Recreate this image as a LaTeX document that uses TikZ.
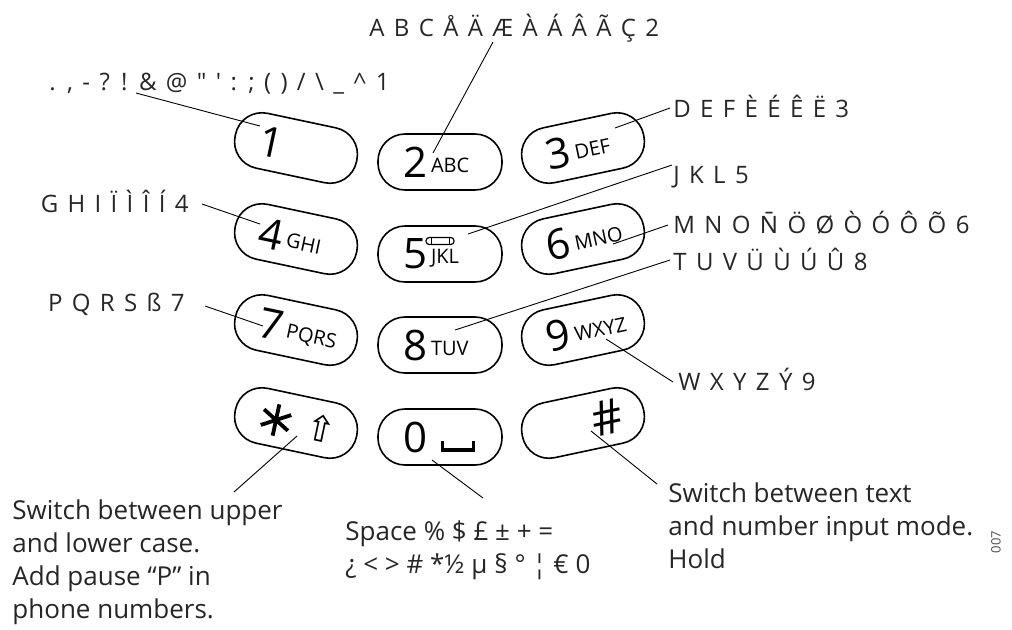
\documentclass[tikz,border=0pt]{standalone}
\usepackage{fontspec}
\setmainfont{Open Sans}
\newfontfamily\listfont[WordSpace=1.5,Ligatures=TeXOff]{Open Sans}
\newfontfamily\markfont{Noto Sans}
\newfontfamily\glyphfont{DejaVu Sans}

\newcommand\keydig[1]{{\fontsize{21}{21}\selectfont #1}}
\newcommand\keylet[1]{\hspace{2pt}\raisebox{2.5pt}{\fontsize{10}{10}\selectfont #1}}
\newcommand\spacebar{\rule{1.6pt}{5.5pt}\rule{14pt}{2pt}\rule{1.6pt}{5.5pt}}

\tikzset{
    keycap/.style={draw, line width=0.8pt, rounded corners=13.5pt,
        minimum height=28pt, text width=62pt, inner xsep=0pt, inner ysep=0pt, align=left,
        execute at begin node=\hspace*{12.5pt}},
    keyleft/.style={keycap, rotate=-12},
    keyright/.style={keycap, rotate=12},
    charlist/.style={inner sep=0pt, anchor=base west, text=black!85,
        font=\listfont\fontsize{12}{14}\selectfont},
    note/.style={inner sep=0pt, anchor=base west, align=left, text=black!85,
        font=\fontsize{13}{16.5}\selectfont},
    pointer/.style={line width=0.45pt}
}

\begin{document}
\begin{tikzpicture}[x=0.5pt, y=-0.5pt]
\useasboundingbox (0,0) rectangle (1012,629);

% keypad
\node[keyleft]  (k1) at (296,148) {\keydig{1}};
\node[keycap]   (k2) at (440,162) {\keydig{2}\keylet{ABC}};
\node[keyright] (k3) at (583,148) {\keydig{3}\keylet{DEF}};
\node[keyleft]  (k4) at (296,239) {\keydig{4}\keylet{GHI}};
\node[keycap]   (k5) at (440,254) {\keydig{5}\keylet{JKL}};
\node[keyright] (k6) at (583,239) {\keydig{6}\keylet{MNO}};
\node[keyleft]  (k7) at (296,330) {\keydig{7}\keylet{PQRS}};
\node[keycap]   (k8) at (440,345) {\keydig{8}\keylet{TUV}};
\node[keyright] (k9) at (583,330) {\keydig{9}\keylet{WXYZ}};
\node[keyleft]  (kstar) at (296,423) {\hspace{24pt}{\glyphfont\fontsize{18}{18}\selectfont ⇧}};
\node[keycap]   (kzero) at (440,437) {\keydig{0}\hspace{7pt}\spacebar};
\node[keyright] (khash) at (583,423) {\hspace{23pt}{\fontsize{24}{24}\selectfont\#}};

% mailbox mark on 5, asterisk on the star key
\draw[line width=0.6pt, rounded corners=1.6pt]
    ([shift={(-14,-16.5)}]k5.center) rectangle ([shift={(14,-9.5)}]k5.center);
\draw[line width=0.5pt] ([shift={(-9,-16.5)}]k5.center) -- ([shift={(-9,-9.5)}]k5.center)
    ([shift={(9,-16.5)}]k5.center) -- ([shift={(9,-9.5)}]k5.center);
\coordinate (astc) at ([shift={(-20,-3)}]kstar.center);
\foreach \a in {102,162,222}
    \draw[line width=1.9pt] ([shift={(\a:16)}]astc) -- ([shift={(\a+180:16)}]astc);

% pointer ends inside the keys
\coordinate (p1) at ([shift={(-36,-22)}]k1.center);
\coordinate (p2) at ([shift={(-7,-9)}]k2.center);
\coordinate (p3) at ([shift={(32,-20)}]k3.center);
\coordinate (p4) at ([shift={(-36,-15)}]k4.center);
\coordinate (p5) at ([shift={(28,-20)}]k5.center);
\coordinate (p6) at ([shift={(30,5)}]k6.center);
\coordinate (p7) at ([shift={(-33,-4)}]k7.center);
\coordinate (p8) at ([shift={(15,-15)}]k8.center);
\coordinate (p9) at ([shift={(23,9)}]k9.center);
\coordinate (pstar) at ([shift={(1,13)}]kstar.center);
\coordinate (pzero) at ([shift={(-8,23)}]kzero.center);
\coordinate (phash) at ([shift={(8,8)}]khash.center);

% character lists
\node[charlist] (l1) at (49,90) {. , - ? ! \& @ " ' : ; ( ) / \textbackslash{} \_ \textasciicircum{} 1};
\node[charlist] (l2) at (369,36) {A B C Å Ä Æ À Á Â Ã Ç 2};
\node[charlist] (l3) at (673,117) {D E F È É Ê Ë 3};
\node[charlist, anchor=base east] (l4) at (189,212) {G H I Ï Ì Î Í 4};
\node[charlist] (l5) at (673,183) {J K L 5};
\node[charlist] (l6) at (673,233) {M N O {\markfont N^^^^0304} Ö Ø Ò Ó Ô Õ 6};
\node[charlist, anchor=base east] (l7) at (185,311) {P Q R S ß 7};
\node[charlist] (l8) at (673,270) {T U V Ü Ù Ú Û 8};
\node[charlist] (l9) at (678,390) {W X Y Z Ý 9};

% notes (base = last line)
\node[note] (nstar) at (12,618) {Switch between upper\\and lower case.\\Add pause “P” in\\phone numbers.};
\node[note] (nzero) at (345,573) {Space \% \$ £ ± + =\\¿ < > \# *½ µ § ° ¦ € 0};
\node[note] (nhash) at (668,568) {Switch between text\\and number input mode.\\Hold};
\node[rotate=90, inner sep=0pt, text=black!70, font=\fontsize{6.5}{7}\selectfont] (code) at (996,542) {007};

% pointers
\draw[pointer] ([shift={(87,3)}]l1.base west) -- (p1);
\draw[pointer] ([shift={(124,6)}]l2.base west) -- (p2);
\draw[pointer] ([shift={(-3,-9)}]l3.base west) -- (p3);
\draw[pointer] ([shift={(13,-8)}]l4.base east) -- (p4);
\draw[pointer] ([shift={(-1,-18)}]l5.base west) -- (p5);
\draw[pointer] ([shift={(-5,-8)}]l6.base west) -- (p6);
\draw[pointer] ([shift={(20,-5)}]l7.base east) -- (p7);
\draw[pointer] ([shift={(-3,-10)}]l8.base west) -- (p8);
\draw[pointer] ([shift={(-5,-8)}]l9.base west) -- (p9);
\draw[pointer] (pstar) -- ([shift={(222,-126)}]nstar.base west);
\draw[pointer] (pzero) -- ([shift={(138,-75)}]nzero.base west);
\draw[pointer] (phash) -- ([shift={(-11,-84)}]nhash.base west);
\end{tikzpicture}
\end{document}
